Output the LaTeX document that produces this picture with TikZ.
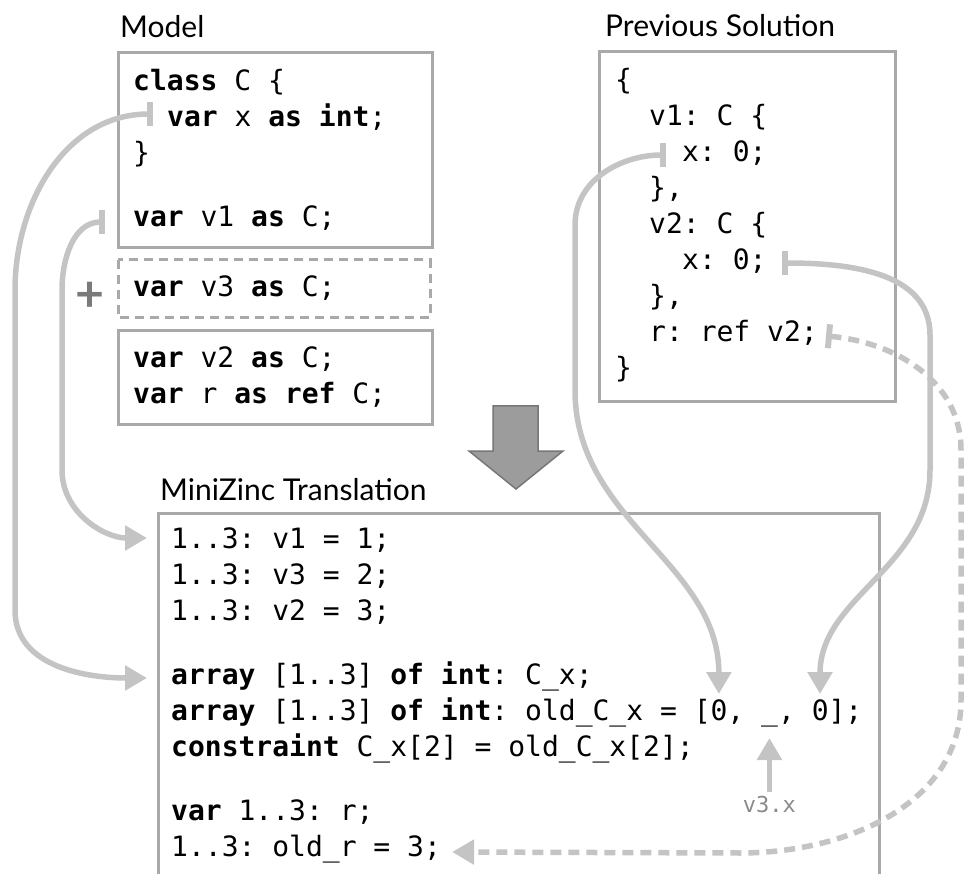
\documentclass[tikz,border=0pt]{standalone}
\usepackage{fontspec}
\usepackage{tikz}
\usetikzlibrary{arrows.meta}

\setmonofont{DejaVu Sans Mono}
\newfontfamily\headfont{Lato}

\definecolor{boxgray}{HTML}{A9A9A9}
\definecolor{linkgray}{HTML}{C4C4C4}
\definecolor{bigarrow}{HTML}{9C9C9C}
\definecolor{bigarrowedge}{HTML}{777777}
\definecolor{notegray}{HTML}{8A8A8A}
\definecolor{plusgray}{HTML}{7A7A7A}

\newcommand{\codefont}{\ttfamily\fontsize{28}{36}\selectfont}
\newlength{\cw}
\AtBeginDocument{\settowidth{\cw}{\codefont 0}}

\tikzset{
  box/.style={draw=boxgray, line width=3pt},
  newbox/.style={box, dash pattern=on 9pt off 6pt},
  code/.style={font=\codefont, anchor=base west, inner sep=0pt},
  head/.style={font=\headfont\fontsize{30}{36}\selectfont, anchor=base west, inner sep=0pt},
  pointer/.style={draw=linkgray, line width=5.5pt, -{Triangle[width=24pt,length=22pt]}},
  link/.style={pointer, {Rectangle[width=24pt,length=6pt]}-{Triangle[width=24pt,length=22pt]}},
  reflink/.style={link, dash pattern=on 11pt off 7pt},
}

\begin{document}
\begin{tikzpicture}[x=1pt,y=1pt]
    \useasboundingbox (0,0) rectangle (964,-874);

    % Headings
    \node[head] (modelhead) at (120,-38) {Model};
    \node[head] (prevhead) at (605,-37) {Previous Solution};
    \node[head] (mznhead) at (160,-500) {MiniZinc Translation};

    % Model boxes, the dashed one is the added variable
    \draw[box] (118,-53) rectangle (432,-248);
    \draw[newbox] (118,-260) rectangle (430,-318);
    \draw[box] (118,-331) rectangle (432,-425);
    \node[text=plusgray, font=\headfont\bfseries\fontsize{50}{50}\selectfont] (plus) at (90,-297) {+};

    % Previous solution box
    \draw[box] (599,-52) rectangle (895,-402);

    % Translation box, open at the bottom
    \draw[box] (158,-874) |- (879,-513) -- (879,-874);

    % Big arrow down
    \filldraw[fill=bigarrow, draw=bigarrowedge, line width=1.5pt]
        (493,-406) -- (538,-406) -- (538,-451) -- (563,-451) -- (516,-489) -- (469,-451) -- (493,-451) -- cycle;

    % Model code
    \foreach \nm/\x/\y/\txt in {
        mclass/133/91/{\textbf{class} C \{},
        mx/167/127/{\textbf{var} x \textbf{as} \textbf{int};},
        mclose/133/163/{\}},
        mvone/133/227/{\textbf{var} v1 \textbf{as} C;},
        mvthree/133/297/{\textbf{var} v3 \textbf{as} C;},
        mvtwo/133/368/{\textbf{var} v2 \textbf{as} C;},
        mr/133/404/{\textbf{var} r \textbf{as} \textbf{ref} C;}} {
        \node[code] (\nm) at (\x,-\y) {\txt};
    }

    % Previous solution code
    \foreach \nm/\x/\y/\txt in {
        popen/615/90/{\{},
        pvone/649/126/{v1: C \{},
        pvonex/682/162/{x: 0;},
        pvoneend/649/198/{\},},
        pvtwo/649/234/{v2: C \{},
        pvtwox/682/270/{x: 0;},
        pvtwoend/649/306/{\},},
        pr/649/342/{r: ref v2;},
        pclose/615/378/{\}}} {
        \node[code] (\nm) at (\x,-\y) {\txt};
    }

    % Translation code
    \foreach \nm/\x/\y/\txt in {
        tvone/171/548/{1..3: v1 = 1;},
        tvthree/171/584/{1..3: v3 = 2;},
        tvtwo/171/620/{1..3: v2 = 3;},
        tcx/171/684/{\textbf{array} [1..3] \textbf{of} \textbf{int}: C\_x;},
        toldcx/171/720/{\textbf{array} [1..3] \textbf{of} \textbf{int}: old\_C\_x = [0, \_, 0];},
        tcons/171/756/{\textbf{constraint} C\_x[2] = old\_C\_x[2];},
        tr/171/820/{\textbf{var} 1..3: r;},
        toldr/171/856/{1..3: old\_r = 3;}} {
        \node[code] (\nm) at (\x,-\y) {\txt};
    }

    % Entries of old_C_x
    \coordinate (zeroA) at ([xshift={32.5*\cw},yshift=26pt]toldcx.base west);
    \coordinate (zeroB) at ([xshift={38.5*\cw},yshift=26pt]toldcx.base west);
    \coordinate (blank) at ([xshift={35.5*\cw},yshift=-18pt]toldcx.base west);

    % Model to translation
    \draw[link] ([xshift=-14pt,yshift=13pt]mx.base west) to[out=180,in=90] (15,-290)
        -- (15,-610) to[out=-90,in=180] ([xshift=-24pt,yshift=6pt]tcx.base west);
    \draw[link] ([xshift=-28pt,yshift=5pt]mvone.base west) to[out=180,in=90] (62,-290)
        -- (62,-470) to[out=-90,in=180] ([xshift=-24pt,yshift=10pt]tvone.base west);

    % Previous solution to translation
    \draw[link] ([xshift=-16pt,yshift=7pt]pvonex.base west) to[out=180,in=90] (575,-225)
        -- (575,-390) to[out=-90,in=90] (zeroA);
    \draw[link] ([xshift=15pt,yshift=7pt]pvtwox.base east) to[out=0,in=90] (930,-335)
        -- (930,-470) to[out=-90,in=90] (zeroB);
    \draw[reflink] ([xshift=8pt,yshift=6pt]pr.base east) to[out=-5,in=90] (961,-450)
        -- (961,-700) to[out=-90,in=0] (740,-853) -- ([xshift=11pt,yshift=4pt]toldr.base east);

    % The new variable has no old value
    \node[font=\ttfamily\fontsize{22}{22}\selectfont, text=notegray, anchor=base, inner sep=3pt]
        (vthreex) at ([yshift=-74pt]blank) {v3.x};
    \draw[pointer] (vthreex) -- (blank);

\end{tikzpicture}
\end{document}
